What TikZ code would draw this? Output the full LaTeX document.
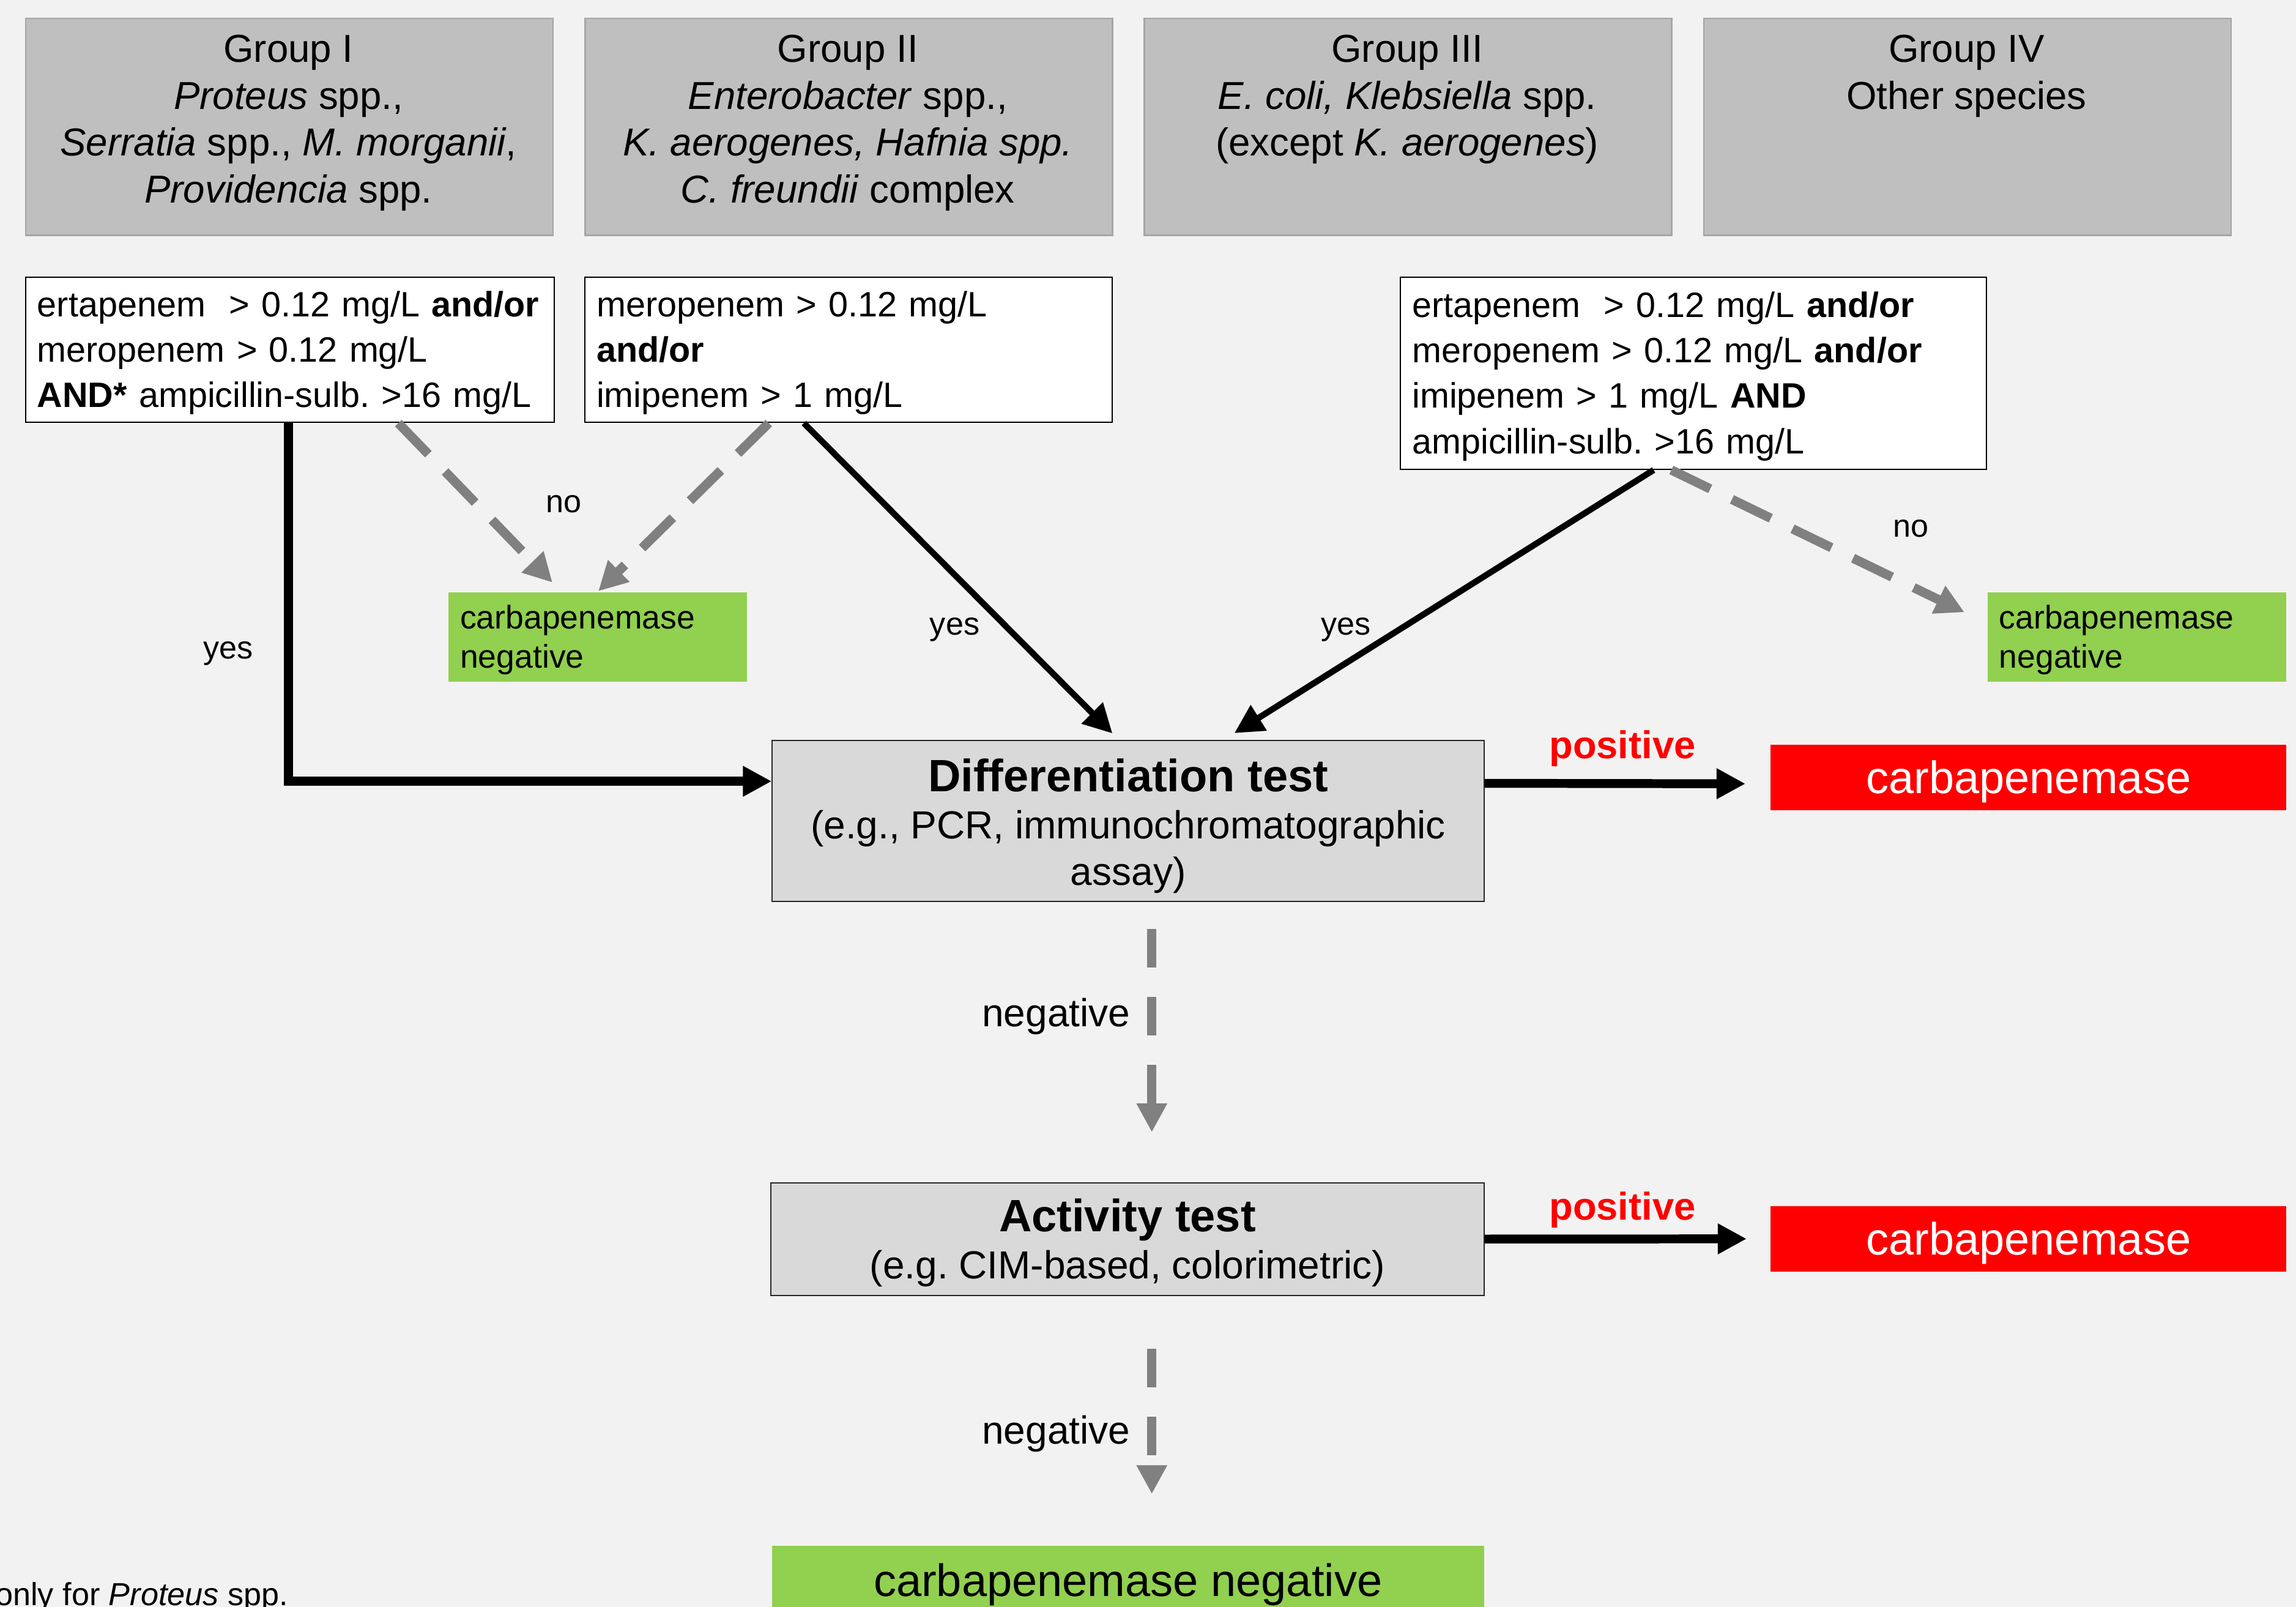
\documentclass[tikz,border=0pt]{standalone}
\usepackage{fontspec}
\setmainfont{Liberation Sans}
\usetikzlibrary{arrows.meta,calc}
\definecolor{bgc}{HTML}{F2F2F2}
\definecolor{grpfill}{HTML}{BFBFBF}
\definecolor{grpdraw}{HTML}{A6A6A6}
\definecolor{testfill}{HTML}{D9D9D9}
\definecolor{okgreen}{HTML}{92D050}
\definecolor{cpred}{HTML}{FF0000}
\definecolor{arrgray}{HTML}{808080}
\newcommand\fsz[2]{\fontsize{#1}{#2}\selectfont}
\newcommand\topstrut[1]{\rule{0pt}{#1}}
\frenchspacing
\begin{document}
\begin{tikzpicture}[x=0.025cm, y=-0.025cm,
 groupbox/.style={draw=grpdraw, fill=grpfill, line width=0.8pt, anchor=north west, inner sep=0pt, minimum width=9cm, minimum height=3.7cm},
 grouptext/.style={anchor=north, align=center, inner sep=0pt, font=\fsz{18.9}{22.8}},
 condbox/.style={draw=black, fill=white, line width=0.6pt, anchor=north west, inner xsep=0.2cm, inner ysep=0pt, align=left, font=\fsz{17.1}{22}},
 smallneg/.style={fill=okgreen, anchor=north west, minimum width=5.1cm, minimum height=1.525cm, inner xsep=0.2cm, inner ysep=0pt, text width=4.7cm, align=left, font=\fsz{15.9}{19.2}},
 testbox/.style={draw=black!85, fill=testfill, line width=0.6pt, anchor=north west, inner sep=0pt, align=center, font=\fsz{19}{22.8}},
 cpbox/.style={fill=cpred, text=white, anchor=north west, minimum width=8.8cm, minimum height=1.125cm, inner sep=0pt, font=\fsz{22}{26}, text height=15.75pt, text depth=0pt},
 yesno/.style={font=\fsz{15.5}{18}, inner sep=0pt},
 poslbl/.style={font=\fsz{18.8}{22}\bfseries, text=cpred, inner sep=0pt},
 neglbl/.style={font=\fsz{19}{22}, inner sep=0pt, anchor=east},
 solidarr/.style={draw=black, line width=3pt, -{Triangle[length=14pt, width=14pt]}},
 thickarr/.style={draw=black, line width=4.3pt, -{Triangle[length=14pt, width=14pt]}},
 diagdash/.style={draw=arrgray, line width=4.5pt, dash pattern=on 21pt off 11.7pt, -{Triangle[length=14pt, width=14pt]}},
 vertdash/.style={draw=arrgray, line width=4.5pt, dash pattern=on 18.8pt off 14.2pt, -{Triangle[length=14pt, width=14pt]}},
]
\fill[bgc] (0,0) rectangle (1568,1097);
\useasboundingbox (0,0) rectangle (1568,1097);

% group boxes
\node[groupbox] (g1) at (17,12) {};
\node[groupbox] (g2) at (399,12) {};
\node[groupbox] (g3) at (781,12) {};
\node[groupbox] (g4) at (1163,12) {};
\node[grouptext] (g1t) at (197,23.5) {Group I\\\textit{Proteus} spp.,\\\textit{Serratia} spp., \textit{M. morganii},\\\textit{Providencia} spp.};
\node[grouptext] (g2t) at (579,23.5) {Group II\\\textit{Enterobacter} spp.,\\\textit{K. aerogenes, Hafnia spp.}\\\textit{C. freundii} complex};
\node[grouptext] (g3t) at (961,23.5) {Group III\\\textit{E. coli, Klebsiella} spp.\\(except \textit{K. aerogenes})};
\node[grouptext] (g4t) at (1343,23.5) {Group IV\\Other species};

% condition boxes
\node[condbox, minimum width=9.025cm, minimum height=2.475cm, text width=8.625cm] (c1) at (17,189)
 {\topstrut{15.3pt}\mbox{ertapenem~ > 0.12 mg/L \textbf{and/or}}\\\mbox{meropenem > 0.12 mg/L}\\\mbox{\textbf{AND*} ampicillin-sulb. >16 mg/L}};
\node[condbox, minimum width=9cm, minimum height=2.475cm, text width=8.6cm] (c2) at (399,189)
 {\topstrut{15.3pt}meropenem > 0.12 mg/L\\\textbf{and/or}\\imipenem > 1 mg/L};
\node[condbox, minimum width=10cm, minimum height=3.275cm, text width=9.6cm] (c3) at (956,189)
 {\topstrut{15.3pt}\mbox{ertapenem~ > 0.12 mg/L \textbf{and/or}}\\\mbox{meropenem > 0.12 mg/L \textbf{and/or}}\\imipenem > 1 mg/L \textbf{AND}\\ampicillin-sulb. >16 mg/L};

% small negative boxes
\node[smallneg] (n1) at (306,404) {\topstrut{14.5pt}carbapenemase\\negative};
\node[smallneg] (n3) at (1357,404) {\topstrut{14.5pt}carbapenemase\\negative};

% tests
\node[testbox, minimum width=12.15cm, minimum height=2.75cm] (diff) at (527,505)
 {{\fsz{22}{26}\bfseries\topstrut{21pt}Differentiation test}\\(e.g., PCR, immunochromatographic\\assay)};
\node[testbox, minimum width=12.175cm, minimum height=1.925cm] (act) at (526,807)
 {{\fsz{22}{26}\bfseries\topstrut{19.6pt}Activity test}\\(e.g. CIM-based, colorimetric)};

% results
\node[cpbox] (cp1) at (1209,508) {carbapenemase};
\node[cpbox] (cp2) at (1209,823) {carbapenemase};
\node[fill=okgreen, anchor=north west, minimum width=12.15cm, minimum height=1.175cm, inner sep=0pt,
 font=\fsz{22}{26}, text height=15.75pt, text depth=0pt] (final) at (527,1055) {carbapenemase negative};

% labels
\node[yesno] (y1) at (156,446) {yes};
\node[yesno] (y2) at (652,430) {yes};
\node[yesno] (y3) at (919,430) {yes};
\node[yesno] (no1) at (385,344) {no};
\node[yesno] (no3) at (1305,361) {no};
\node[poslbl] (p1) at (1108,511) {positive};
\node[poslbl] (p2) at (1108,826) {positive};
\node[neglbl] (ng1) at (772,694) {negative};
\node[neglbl] (ng2) at (772,979) {negative};
\node[font=\fsz{15.5}{18}, inner sep=0pt, anchor=base east] (fn) at (197,1096) {only for \textit{Proteus} spp.};

% connector end points
\coordinate (c1a) at ($(c1.south west)+(180,0)$);
\coordinate (c1b) at ($(c1.south west)+(255,0)$);
\coordinate (c2a) at ($(c2.south west)+(126,0)$);
\coordinate (c2b) at ($(c2.south west)+(150,0)$);
\coordinate (c3a) at ($(c3.south west)+(173.3,0)$);
\coordinate (c3b) at ($(c3.south west)+(185.4,0)$);
\coordinate (n1a) at ($(n1.north west)+(71.3,-6.3)$);
\coordinate (n1b) at ($(n1.north west)+(102.6,-0.4)$);
\coordinate (n3a) at ($(n3.north west)+(-15.4,14)$);
\coordinate (diffw) at ($(diff.north west)+(0,28.4)$);
\coordinate (diffn1) at ($(diff.north west)+(232.7,-4.3)$);
\coordinate (diffn2) at ($(diff.north west)+(316,-4.5)$);
\coordinate (diffe) at ($(diff.north east)+(0,29.8)$);
\coordinate (diffs) at ($(diff.south west)+(259.6,18.4)$);
\coordinate (actn) at ($(act.north west)+(260.6,-34)$);
\coordinate (acte) at (act.east);
\coordinate (acts) at ($(act.south west)+(260.6,36)$);
\coordinate (cp1w) at ($(cp1.west)+(-17,4.3)$);
\coordinate (cp2w) at ($(cp2.west)+(-16.2,0)$);
\coordinate (finaln) at ($(final.north west)+(259.6,-35)$);

% connectors
\draw[thickarr] (c1a) |- (diffw);
\draw[diagdash] (c1b) -- (n1a);
\draw[diagdash] (c2a) -- (n1b);
\draw[solidarr] (c2b) -- (diffn1);
\draw[solidarr] (c3a) -- (diffn2);
\draw[diagdash] (c3b) -- (n3a);
\draw[thickarr] (diffe) -- (cp1w);
\draw[thickarr] (acte) -- (cp2w);
\draw[vertdash] (diffs) -- (actn);
\draw[vertdash] (acts) -- (finaln);
\end{tikzpicture}
\end{document}
